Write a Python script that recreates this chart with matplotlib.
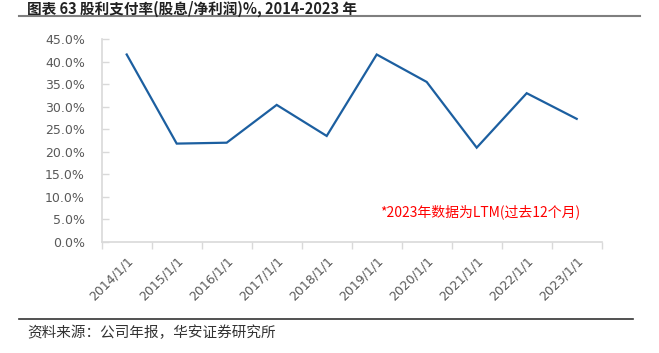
import matplotlib
matplotlib.use("Agg")
import matplotlib.pyplot as plt
from matplotlib.lines import Line2D
from matplotlib.ticker import FuncFormatter, FixedLocator
import numpy as np

# 股利支付率数据
years = ["2014/1/1", "2015/1/1", "2016/1/1", "2017/1/1", "2018/1/1",
         "2019/1/1", "2020/1/1", "2021/1/1", "2022/1/1", "2023/1/1"]
payout = [0.416, 0.218, 0.220, 0.304, 0.235, 0.416, 0.355, 0.209, 0.330, 0.273]

title = "图表 63 股利支付率(股息/净利润)%, 2014-2023 年"
note = "*2023年数据为LTM(过去12个月)"
source = "资料来源：公司年报，华安证券研究所"

cjk = ["Noto Sans CJK SC", "DejaVu Sans"]
W, H = 659, 353

fig = plt.figure(figsize=(W / 100, H / 100), dpi=100)
ax = fig.add_axes([101.7 / W, 1 - 241.7 / H, 500 / W, 202.5 / H])

x = np.arange(len(years))
ax.plot(x, payout, color="#1c5fa0", lw=1.6, solid_joinstyle="miter")

ax.set_xlim(-0.5, len(years) - 0.5)
ax.set_ylim(0, 0.45)

ax.yaxis.set_major_locator(FixedLocator(np.arange(0, 0.451, 0.05)))
ax.yaxis.set_major_formatter(FuncFormatter(lambda v, p: f"{v * 100:.1f}%"))
ax.tick_params(axis="y", direction="in", length=5, width=1, color="#d9d9d9",
               labelsize=9, labelcolor="#595959", pad=12)

ax.set_xticks(x)
ax.set_xticklabels(years, rotation=45, ha="right", rotation_mode="anchor")
ax.set_xticks(np.arange(-0.5, len(years)), minor=True)
ax.tick_params(axis="x", which="major", length=0, labelsize=9,
               labelcolor="#595959", pad=9)
ax.tick_params(axis="x", which="minor", direction="out", length=5, width=1,
               color="#d9d9d9")

for s in ["top", "right"]:
    ax.spines[s].set_visible(False)
for s in ["left", "bottom"]:
    ax.spines[s].set_color("#d9d9d9")
    ax.spines[s].set_linewidth(1.2)

ax.text(0.757, 0.15, note, transform=ax.transAxes, ha="center", va="center",
        color="#ff0000", fontsize=10, family=cjk)

# 标题与来源
fig.text(27 / W, 1 - 0.5 / H, title, ha="left", va="top", fontsize=10.5,
         fontweight="bold", color="#222222", family=cjk)
fig.add_artist(Line2D([19 / W, 640 / W], [1 - 16 / H, 1 - 16 / H],
                      transform=fig.transFigure, color="#7f7f7f", lw=1.5))
fig.add_artist(Line2D([19 / W, 633 / W], [1 - 319 / H, 1 - 319 / H],
                      transform=fig.transFigure, color="#333333", lw=1.2))
fig.text(27 / W, 1 - 333 / H, source, ha="left", va="center", fontsize=10.5,
         color="#333333", family=cjk)

fig.savefig("out.png", dpi=100)
